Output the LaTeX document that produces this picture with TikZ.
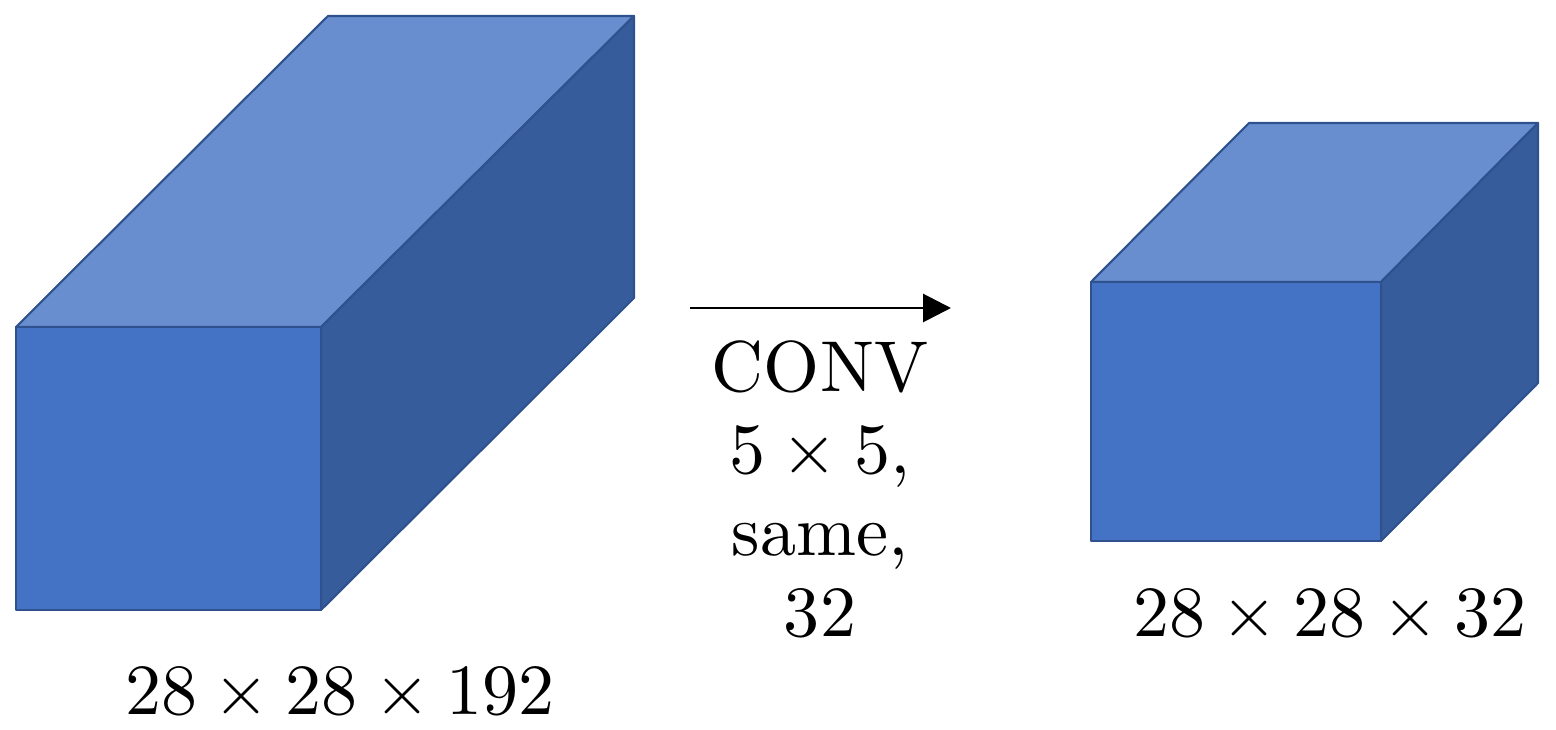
\documentclass[tikz,border=0pt]{standalone}
\usepackage{tikz}
\usetikzlibrary{arrows.meta}
\definecolor{frontblue}{HTML}{4472C4}
\definecolor{topblue}  {HTML}{698ED0}
\definecolor{sideblue} {HTML}{365C9B}
\definecolor{edgeblue} {HTML}{2F528F}

\begin{document}
\begin{tikzpicture}[x=0.1mm,y=-0.1mm,
  face/.style={draw=edgeblue,line width=0.6pt,line join=round},
  lbl/.style={font=\fontsize{10}{11.37}\selectfont,inner sep=0pt,align=center,
              scale=2.05,transform shape}]
\useasboundingbox (0,0) rectangle (1556,730);
% input volume 28x28x192
\coordinate (inFL) at (16,327);
\coordinate (inFR) at (321,327);
\coordinate (inBL) at (16,610);
\coordinate (inBR) at (321,610);
\coordinate (inTL) at (328,16);
\coordinate (inTR) at (634,16);
\coordinate (inSR) at (634,298);
\draw[face,fill=topblue] (inFL) -- (inTL) -- (inTR) -- (inFR) -- cycle;
\draw[face,fill=sideblue] (inFR) -- (inTR) -- (inSR) -- (inBR) -- cycle;
\draw[face,fill=frontblue] (inFL) -- (inFR) -- (inBR) -- (inBL) -- cycle;
% output volume 28x28x32
\coordinate (outFL) at (1091,282);
\coordinate (outFR) at (1381,282);
\coordinate (outBL) at (1091,541);
\coordinate (outBR) at (1381,541);
\coordinate (outTL) at (1249,123);
\coordinate (outTR) at (1538,123);
\coordinate (outSR) at (1538,383);
\draw[face,fill=topblue] (outFL) -- (outTL) -- (outTR) -- (outFR) -- cycle;
\draw[face,fill=sideblue] (outFR) -- (outTR) -- (outSR) -- (outBR) -- cycle;
\draw[face,fill=frontblue] (outFL) -- (outFR) -- (outBR) -- (outBL) -- cycle;
% conv step
\coordinate (convIn) at (690,308);
\coordinate (convOut) at (951,308);
\draw[line width=0.85pt,-{Triangle[length=2.8mm,width=2.8mm]}] (convIn) -- (convOut);
\node[lbl,anchor=north] (convText) at (820,339) {CONV\\$5\times5$,\\same,\\32};
\node[lbl,anchor=base] (inSize) at (340,715) {$28\times28\times192$};
\node[lbl,anchor=base] (outSize) at (1330,637) {$28\times28\times32$};
\end{tikzpicture}
\end{document}
